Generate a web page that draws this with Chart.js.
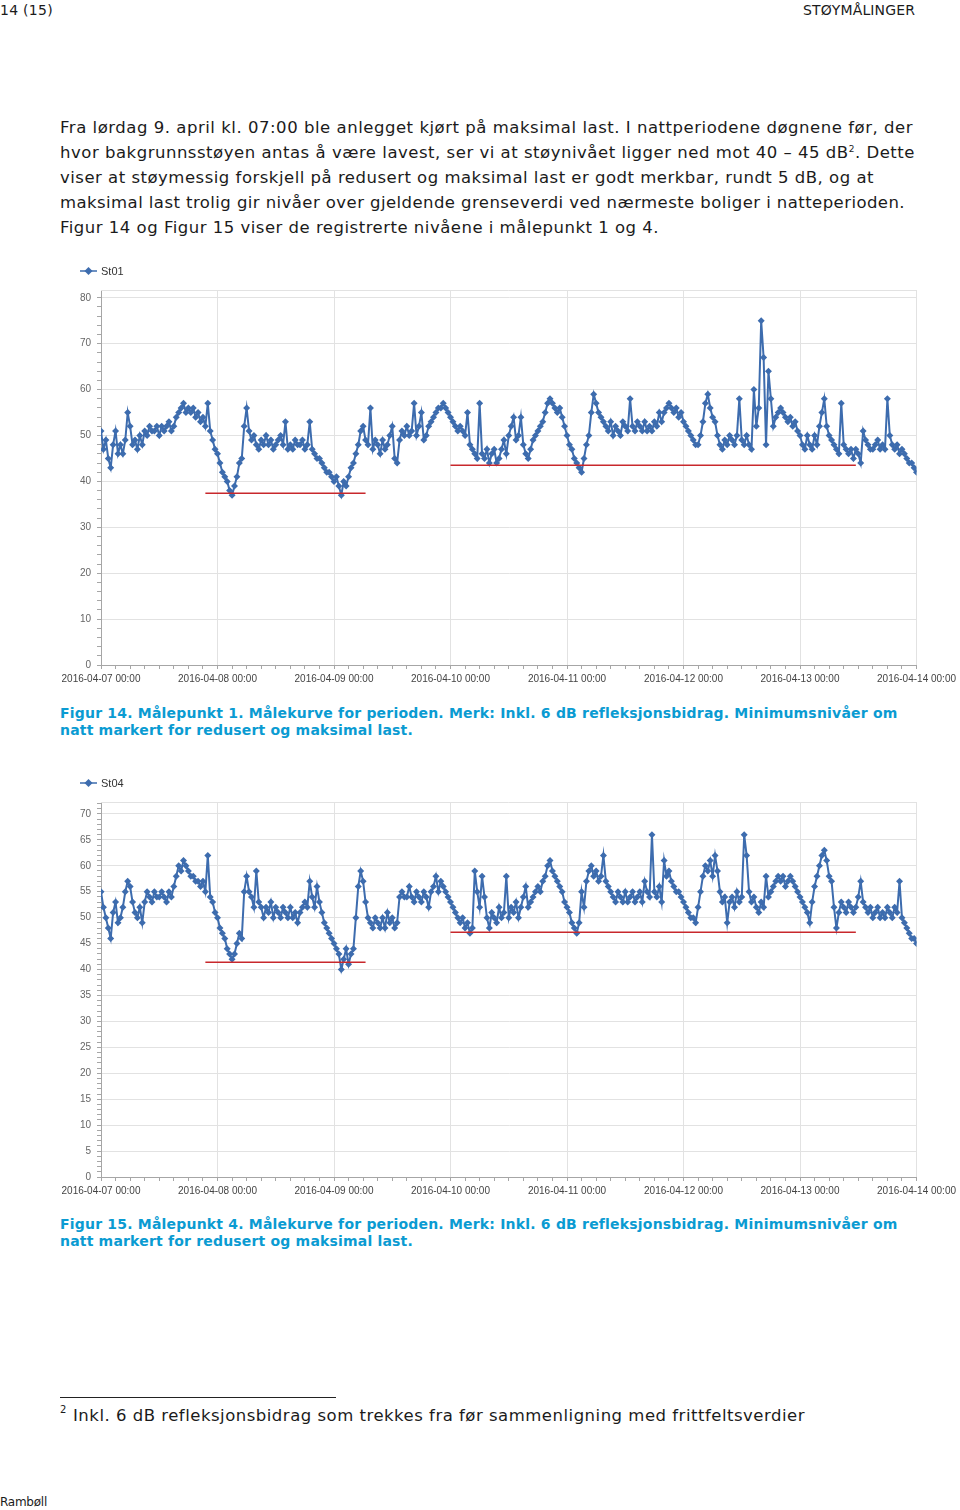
<!DOCTYPE html>
<html>
<head>
<meta charset="utf-8">
<script src="https://cdn.jsdelivr.net/npm/chart.js@4.4.1/dist/chart.umd.min.js"></script>
<style>
  body { margin: 0; background: #fff; }
  #page { position: relative; width: 960px; height: 1510px; overflow: hidden; font-family: "DejaVu Sans", Verdana, sans-serif; color: #1b1b1b; }
  .t { position: absolute; white-space: nowrap; }
  .hdr { font-size: 14px; line-height: 18px; }
  .p { font-size: 16.5px; line-height: 20px; left: 60px; }
  .p sup { font-size: 9px; line-height: 0; }
  .cap { font-size: 14px; line-height: 17px; font-weight: bold; color: #0a9bd2; left: 60px; }
  .box { position: absolute; left: 56px; width: 904px; height: 431px; }
  .rule { position: absolute; left: 60px; top: 1397px; width: 276px; border-top: 1px solid #222; }
</style>
</head>
<body>
<div id="page">
  <div class="t hdr" style="left:0;top:1px" data-w="53">14 (15)</div>
  <div class="t hdr" style="left:803px;top:1px" data-w="112" data-right="915">STØYMÅLINGER</div>

  <div class="t p" style="top:118px" data-w="853">Fra lørdag 9. april kl. 07:00 ble anlegget kjørt på maksimal last. I nattperiodene døgnene før, der</div>
  <div class="t p" style="top:143px" data-w="855">hvor bakgrunnsstøyen antas å være lavest, ser vi at støynivået ligger ned mot 40 – 45 dB<sup>2</sup>. Dette</div>
  <div class="t p" style="top:168px" data-w="814">viser at støymessig forskjell på redusert og maksimal last er godt merkbar, rundt 5 dB, og at</div>
  <div class="t p" style="top:193px" data-w="845">maksimal last trolig gir nivåer over gjeldende grenseverdi ved nærmeste boliger i natteperioden.</div>
  <div class="t p" style="top:218px" data-w="599">Figur 14 og Figur 15 viser de registrerte nivåene i målepunkt 1 og 4.</div>

  <div class="box" style="top:258px"><canvas id="st01"></canvas></div>

  <div class="t cap" style="top:705px" data-w="837">Figur 14. Målepunkt 1. Målekurve for perioden. Merk: Inkl. 6 dB refleksjonsbidrag. Minimumsnivåer om</div>
  <div class="t cap" style="top:722px" data-w="353">natt markert for redusert og maksimal last.</div>

  <div class="box" style="top:770px"><canvas id="st04"></canvas></div>

  <div class="t cap" style="top:1216px" data-w="837">Figur 15. Målepunkt 4. Målekurve for perioden. Merk: Inkl. 6 dB refleksjonsbidrag. Minimumsnivåer om</div>
  <div class="t cap" style="top:1233px" data-w="353">natt markert for redusert og maksimal last.</div>

  <div class="rule"></div>
  <div class="t" style="left:60px;top:1404px;font-size:10px;line-height:12px">2</div>
  <div class="t p" style="left:73px;top:1406px" data-w="732">Inkl. 6 dB refleksjonsbidrag som trekkes fra før sammenligning med frittfeltsverdier</div>
  <div class="t" style="left:0;top:1494px;font-size:12px;line-height:16px" data-w="47">Rambøll</div>
</div>

<script>
// x axis: hours since 2016-04-07 00:00, one sample every half hour
const dayLabels = [
  '2016-04-07 00:00', '2016-04-08 00:00', '2016-04-09 00:00', '2016-04-10 00:00',
  '2016-04-11 00:00', '2016-04-12 00:00', '2016-04-13 00:00', '2016-04-14 00:00',
];
const sampleHours = 0.5;

// St01, dB (12 hours per row)
const st01 = [
  51,47, 49,45, 43,48, 51,46, 48,46, 49,55, 52,48, 49,47, 50,48, 51,50, 52,51, 51,52,
  50,52, 51,52, 53,51, 52,54, 55,56, 57,55, 56,55, 56,54, 55,53, 54,52, 57,51, 49,47,
  46,44, 42,41, 40,38, 37,39, 41,44, 45,52, 56,51, 49,50, 48,47, 49,48, 50,48, 49,47,
  48,49, 50,48, 53,47, 48,47, 49,48, 48,49, 47,48, 53,47, 46,45, 45,44, 43,42, 42,41,
  40,41, 39,37, 40,39, 41,43, 44,46, 48,51, 52,49, 48,56, 47,49, 48,46, 49,47, 48,50,
  52,45, 44,49, 51,50, 52,50, 51,57, 50,52, 55,49, 50,52, 53,54, 55,56, 56,57, 56,55,
  54,53, 52,51, 52,51, 50,55, 48,47, 46,45, 57,46, 45,47, 44,46, 47,44, 45,47, 49,46,
  50,52, 54,49, 50,54, 48,46, 45,47, 49,50, 51,52, 53,55, 57,58, 57,56, 55,56, 54,52,
  50,48, 47,45, 44,43, 42,45, 48,50, 55,59, 57,55, 54,53, 52,51, 53,50, 52,51, 50,53,
  52,51, 58,52, 51,53, 52,51, 53,51, 52,51, 53,52, 55,53, 55,56, 57,56, 55,56, 54,55,
  53,52, 51,50, 49,48, 48,50, 53,57, 59,56, 54,53, 50,48, 47,49, 48,50, 49,48, 50,58,
  49,48, 50,48, 47,60, 52,56, 75,67, 48,64, 58,52, 54,55, 56,55, 54,53, 54,52, 53,51,
  50,48, 47,50, 48,47, 50,48, 52,55, 58,52, 50,49, 48,47, 46,57, 48,47, 46,47, 45,47,
  46,44, 51,49, 48,47, 47,48, 49,47, 48,47, 58,50, 48,47, 48,46, 47,46, 45,44, 44,43,
  42,
];

// St04, dB
const st04 = [
  55,52, 50,48, 46,51, 53,49, 50,52, 55,57, 56,53, 51,50, 52,49, 53,55, 54,53, 55,54,
  54,55, 54,53, 55,54, 56,58, 60,59, 61,60, 59,58, 58,57, 57,56, 57,55, 62,54, 53,51,
  50,48, 47,46, 44,43, 42,43, 45,47, 46,55, 58,55, 54,52, 59,53, 52,50, 52,51, 53,50,
  52,51, 50,52, 51,50, 52,50, 51,49, 51,52, 53,52, 57,54, 52,56, 53,51, 49,48, 47,46,
  45,44, 43,40, 42,44, 41,43, 44,50, 56,59, 57,53, 50,49, 48,50, 49,48, 50,48, 51,49,
  50,48, 49,54, 55,54, 54,56, 54,53, 55,54, 53,55, 54,52, 55,56, 58,55, 57,56, 55,54,
  53,52, 51,50, 49,50, 48,49, 47,48, 59,55, 52,58, 54,50, 48,51, 50,49, 52,50, 51,58,
  50,52, 51,53, 50,52, 54,56, 52,53, 54,55, 56,55, 57,58, 60,61, 59,58, 57,56, 55,53,
  52,51, 49,48, 47,49, 55,52, 57,59, 60,58, 59,57, 58,62, 57,56, 55,54, 53,55, 54,53,
  55,53, 54,55, 53,54, 55,53, 57,55, 54,66, 55,54, 56,53, 61,58, 59,57, 56,55, 55,54,
  53,52, 51,50, 50,49, 52,55, 58,60, 59,61, 58,62, 59,55, 53,54, 49,53, 54,52, 55,53,
  54,66, 62,55, 53,54, 52,51, 53,52, 58,54, 55,56, 57,58, 57,58, 56,57, 58,57, 56,55,
  54,53, 52,51, 49,53, 56,58, 60,62, 63,61, 58,57, 52,48, 51,53, 52,51, 53,52, 51,52,
  54,57, 53,52, 51,52, 50,51, 52,50, 51,50, 52,51, 50,52, 51,57, 50,49, 48,47, 46,46,
  45,
];

// night minimum markers (hours from start) and their levels
const nightSpans = [[21.5, 54.5], [72, 155.5]];
const st01NightMin = [37.4, 43.5];
const st04NightMin = [41.4, 47.2];

const BLUE = '#3d6cae';
const RED = '#c8282c';
const GRID = '#e2e2e2';
const AXIS = '#a6a6a6';

const toPoints = arr => arr.map((v, i) => ({ x: i * sampleHours, y: v }));

// top border of the plot + the series key above it
const frame = {
  id: 'frame',
  afterDraw(chart) {
    const { ctx, chartArea: a } = chart;
    const ds = chart.data.datasets[0];
    ctx.save();
    ctx.strokeStyle = GRID;
    ctx.lineWidth = 1;
    ctx.beginPath();
    ctx.moveTo(a.left, a.top + 0.5);
    ctx.lineTo(a.right, a.top + 0.5);
    ctx.stroke();

    const x = a.left - 21, y = a.top - 19;
    ctx.strokeStyle = ds.borderColor;
    ctx.lineWidth = 1.5;
    ctx.beginPath();
    ctx.moveTo(x, y);
    ctx.lineTo(x + 17, y);
    ctx.stroke();
    ctx.fillStyle = ds.borderColor;
    ctx.beginPath();
    ctx.moveTo(x + 8.5, y - 4);
    ctx.lineTo(x + 12.5, y);
    ctx.lineTo(x + 8.5, y + 4);
    ctx.lineTo(x + 4.5, y);
    ctx.closePath();
    ctx.fill();
    ctx.fillStyle = '#333';
    ctx.font = '11px "Liberation Sans", Arial, sans-serif';
    ctx.textBaseline = 'middle';
    ctx.fillText(ds.label, x + 21, y + 0.5);
    ctx.restore();
  },
};

function makeChart(id, label, values, nightMin, yMax, yMajor, yMinor) {
  const lows = nightSpans.map((s, i) => ({
    label: 'min' + i,
    data: [{ x: s[0], y: nightMin[i] }, { x: s[1], y: nightMin[i] }],
    borderColor: RED,
    borderWidth: 1.5,
    pointRadius: 0,
    order: 0,
  }));
  return new Chart(document.getElementById(id), {
    type: 'line',
    data: {
      datasets: [
        {
          label: label,
          data: toPoints(values),
          borderColor: BLUE,
          backgroundColor: BLUE,
          borderWidth: 2,
          pointStyle: 'rectRot',
          pointRadius: 3.5,
          pointBorderWidth: 0,
          tension: 0,
          order: 1,
        },
        ...lows,
      ],
    },
    plugins: [frame],
    options: {
      animation: false,
      responsive: true,
      maintainAspectRatio: false,
      layout: { padding: { left: 20, right: 43, top: 32, bottom: 0 } },
      plugins: { legend: { display: false }, tooltip: { enabled: false } },
      events: [],
      scales: {
        x: {
          type: 'linear',
          min: 0,
          max: 168,
          afterBuildTicks: s => {
            const t = [];
            for (let h = 0; h <= 168; h += 3) t.push({ value: h });
            s.ticks = t;
          },
          ticks: {
            autoSkip: false,
            maxRotation: 0,
            minRotation: 0,
            padding: 4,
            color: '#444',
            font: { family: '"Liberation Sans", Arial, sans-serif', size: 10 },
            callback: v => (v % 24 === 0 ? dayLabels[v / 24] : ''),
          },
          grid: {
            color: c => (c.tick && c.tick.value % 24 === 0 ? GRID : 'rgba(0,0,0,0)'),
            tickColor: AXIS,
            tickLength: 4,
          },
          border: { color: AXIS },
        },
        y: {
          min: 0,
          max: yMax,
          afterFit: s => { s.width = 25; },
          afterBuildTicks: s => {
            const t = [];
            for (let v = 0; v <= yMax; v += yMinor) t.push({ value: v });
            s.ticks = t;
          },
          ticks: {
            autoSkip: false,
            padding: 6,
            color: '#666',
            font: { family: '"Liberation Sans", Arial, sans-serif', size: 10 },
            callback: v => (v % yMajor === 0 ? v : ''),
          },
          grid: {
            color: c => (c.tick && c.tick.value % yMajor === 0 && c.tick.value > 0 ? GRID : 'rgba(0,0,0,0)'),
            tickColor: AXIS,
            tickLength: 4,
          },
          border: { color: AXIS },
        },
      },
    },
  });
}

makeChart('st01', 'St01', st01, st01NightMin, 81.7, 10, 2);
makeChart('st04', 'St04', st04, st04NightMin, 72.3, 5, 1);

// stretch each text line to the width it has in the original page
document.querySelectorAll('[data-w]').forEach(el => {
  el.style.letterSpacing = '0px';
  const w = el.getBoundingClientRect().width;
  const n = el.textContent.length;
  const target = +el.dataset.w;
  el.style.letterSpacing = ((target - w) / n) + 'px';
  if (el.dataset.right) el.style.left = (+el.dataset.right - target) + 'px';
});
</script>
</body>
</html>
